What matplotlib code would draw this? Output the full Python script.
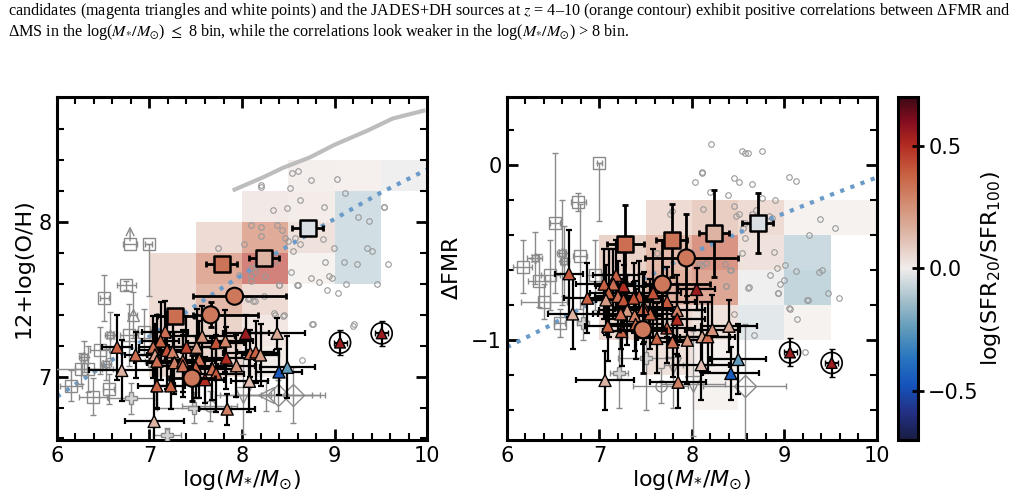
import numpy as np
import matplotlib
matplotlib.use("Agg")
import matplotlib.pyplot as plt
from matplotlib.colors import LinearSegmentedColormap, Normalize
from matplotlib.cm import ScalarMappable

# colour scale, roughly cmocean "balance"
cmap = LinearSegmentedColormap.from_list("balance", [
    (0.00, (0.094, 0.110, 0.263)), (0.08, (0.14, 0.19, 0.52)),
    (0.16, (0.08, 0.33, 0.74)), (0.24, (0.16, 0.46, 0.75)),
    (0.32, (0.37, 0.60, 0.73)), (0.40, (0.62, 0.74, 0.79)),
    (0.50, (0.945, 0.929, 0.925)), (0.60, (0.87, 0.72, 0.66)),
    (0.70, (0.82, 0.53, 0.42)), (0.78, (0.78, 0.37, 0.25)),
    (0.86, (0.70, 0.17, 0.13)), (0.93, (0.52, 0.05, 0.12)),
    (1.00, (0.24, 0.035, 0.08))])
norm = Normalize(-0.7, 0.7)

# ---- binned background maps (lower-left corners, value) ----
cell_l_x = [8.5, 9.0, 9.5, 8.0, 8.5, 9.0, 7.5, 8.0, 8.5, 9.0, 7.0, 7.5, 8.0, 8.5, 9.0,
            7.0, 7.5, 8.0, 7.0, 7.5, 8.0, 7.0, 7.5, 8.0]
cell_l_y = [8.2, 8.2, 8.2, 8.0, 8.0, 8.0, 7.8, 7.8, 7.8, 7.8, 7.6, 7.6, 7.6, 7.6, 7.6,
            7.4, 7.4, 7.4, 7.2, 7.2, 7.2, 7.0, 7.0, 7.0]
cell_l_v = [0.02, 0.015, -0.02, 0.04, 0.03, -0.1, 0.1, 0.32, 0.08, -0.1, 0.1, 0.32, 0.48, 0.01, -0.1,
            0.1, 0.25, 0.1, 0.1, 0.14, 0.05, 0.1, 0.12, 0.03]
cell_r_x = [7.5, 8.0, 8.5, 9.0, 9.5, 7.0, 7.5, 8.0, 8.5, 9.0, 7.0, 7.5, 8.0, 8.5, 9.0,
            7.0, 7.5, 8.0, 8.5, 9.0, 7.5, 8.0, 8.0]
cell_r_y = [-0.4] * 5 + [-0.6] * 5 + [-0.8] * 5 + [-1.0] * 5 + [-1.2, -1.2, -1.4]
cell_r_v = [0.1, 0.16, 0.1, 0.01, 0.01, 0.14, 0.25, 0.42, 0.08, -0.12, 0.1, 0.3, 0.34, -0.02, -0.14,
            0.1, 0.13, 0.08, -0.05, 0.01, 0.08, 0.015, 0.01]

# ---- small grey points (comparison sample) ----
dot_l_x = [8.54, 8.60, 8.20, 8.75, 9.03, 8.52, 9.11, 8.63, 8.34, 8.49, 8.89, 9.54, 9.25, 9.37, 8.10, 8.20,
           8.38, 8.43, 8.20, 8.46, 8.57, 8.50, 8.63, 8.88, 8.02, 8.99, 8.55, 9.35, 9.40, 8.36, 8.90, 9.10,
           9.24, 9.58, 8.16, 8.10, 8.14, 8.25, 8.10, 8.10, 8.53, 8.75, 8.94, 8.97, 8.60, 8.83, 9.12, 9.46,
           8.40, 8.92, 9.04, 8.07, 8.14, 8.24, 8.36, 8.44, 8.76, 9.20, 8.21, 7.74, 7.97, 9.53, 8.40, 8.59,
           8.08, 8.12, 8.35, 8.45, 8.77, 9.21, 8.65]
dot_l_y = [8.32, 8.33, 8.24, 8.27, 8.28, 8.22, 8.19, 8.14, 8.08, 8.09, 8.10, 8.10, 8.03, 8.01, 7.98, 7.97,
           7.98, 7.95, 7.91, 7.90, 7.90, 7.88, 7.86, 7.89, 7.86, 7.83, 7.81, 7.83, 7.81, 7.75, 7.74, 7.74,
           7.73, 7.73, 7.72, 7.70, 7.68, 7.65, 7.65, 7.62, 7.68, 7.64, 7.65, 7.64, 7.59, 7.61, 7.60, 7.60,
           7.59, 7.56, 7.54, 7.50, 7.49, 7.52, 7.40, 7.39, 7.34, 7.33, 8.23, 7.83, 7.66, 8.10, 7.59, 7.59,
           7.51, 7.49, 7.41, 7.40, 7.34, 7.34, 7.11]
dot_r_x = [8.21, 8.54, 8.57, 8.61, 8.76, 8.11, 8.03, 8.45, 8.51, 8.65, 9.05, 9.12, 8.20, 8.39, 8.90, 8.76,
           8.12, 8.45, 8.48, 8.51, 8.69, 8.65, 8.83, 8.87, 8.57, 8.55, 9.38, 9.55, 9.26, 8.57, 8.54, 8.89,
           9.01, 8.92, 8.84, 9.12, 9.37, 9.41, 9.00, 8.95, 8.62, 8.93, 9.47, 9.25, 9.59, 9.05, 9.13, 8.36,
           8.41, 8.08, 8.11, 8.15, 8.37, 8.11, 7.78, 7.76, 7.62, 8.42, 8.61, 8.93, 9.24, 9.06, 8.45, 8.67,
           9.22, 8.37]
dot_r_y = [0.12, 0.08, 0.067, 0.067, 0.08, -0.044, -0.095, -0.076, -0.095, -0.105, -0.069, -0.091, -0.156,
           -0.17, -0.20, -0.189, -0.253, -0.234, -0.29, -0.28, -0.257, -0.28, -0.29, -0.30, -0.33, -0.36,
           -0.31, -0.36, -0.40, -0.415, -0.50, -0.495, -0.57, -0.587, -0.63, -0.606, -0.61, -0.60, -0.657,
           -0.68, -0.695, -0.73, -0.73, -0.77, -0.76, -0.815, -0.88, -0.567, -0.60, -0.566, -0.57, -0.56,
           -0.69, -0.04, -0.26, -0.28, -0.50, -0.60, -0.70, -0.73, -0.77, -0.82, -0.85, -0.97, -1.07, -0.69]

# ---- literature / grey galaxies with error bars (lower / upper y errors) ----
lit_l_x = [6.79, 6.99, 6.75, 6.51, 6.94, 6.46, 6.26, 6.15, 6.39, 6.56, 6.78, 6.34, 6.57, 6.29, 6.82, 6.53,
           6.80, 7.48, 8.55, 8.39, 8.26, 8.01, 7.65, 7.05, 7.19]
lit_l_y = [7.86, 7.86, 7.59, 7.51, 7.29, 7.17, 7.05, 6.94, 6.87, 6.92, 7.27, 7.05, 7.27, 7.13, 7.40, 7.08,
           6.86, 6.80, 6.88, 6.88, 6.88, 6.88, 6.81, 7.10, 6.62]
lit_l_xe = [0.08, 0.04, 0.10, 0.05, 0.08, 0.10, 0.35, 0.12, 0.15, 0.06, 0.10, 0.15, 0.05, 0.05, 0.05, 0.05,
            0.25, 0.40, 0.35, 0.45, 0.50, 0.30, 0.30, 0.10, 0.15]
lit_l_ylo = [0.0, 0.34, 0.03, 0.15, 0.15, 0.15, 0.10, 0.10, 0.12, 0.10, 0.20, 0.15, 0.15, 0.10, 0.15, 0.10,
             0.10, 0.10, 0.18, 0.10, 0.10, 0.25, 0.10, 0.20, 0.05]
lit_l_yhi = [0.0, 0.0, 0.03, 0.15, 0.15, 0.15, 0.10, 0.10, 0.12, 0.10, 0.20, 0.15, 0.15, 0.10, 0.15, 0.10,
             0.10, 0.10, 0.18, 0.10, 0.10, 0.25, 0.10, 0.20, 0.05]
lit_l_m = ["s", "s", "s", "s", "s", "s", "s", "s", "s", "s", "s", "s", "fl", "fl", "^", "fl",
           "P", "P", "D", "D", "<", "v", "o", "s", "P"]
lit_r_x = [7.00, 6.77, 6.52, 6.79, 6.30, 6.59, 6.17, 6.47, 6.35, 6.40, 6.57, 6.82, 7.21, 7.50, 8.57, 7.66,
           8.01, 6.95, 6.62, 7.80]
lit_r_y = [0.01, -0.21, -0.33, -0.52, -0.53, -0.50, -0.58, -0.63, -0.66, -0.78, -0.90, -0.90, -1.19, -1.10,
           -1.26, -1.26, -1.25, -0.63, -0.55, -1.14]
lit_r_xe = [0.03, 0.08, 0.05, 0.08, 0.08, 0.05, 0.10, 0.10, 0.12, 0.25, 0.06, 0.06, 0.10, 0.30, 0.45, 0.30,
            0.35, 0.08, 0.05, 0.10]
lit_r_ylo = [0.33, 0.05, 0.40, 0.30, 0.15, 0.30, 0.15, 0.20, 0.15, 0.10, 0.08, 0.10, 0.20, 0.30, 0.35, 0.10,
             0.30, 0.20, 0.20, 0.25]
lit_r_yhi = [0.0, 0.05, 0.40, 0.30, 0.15, 0.30, 0.15, 0.20, 0.15, 0.10, 0.08, 0.10, 0.20, 0.30, 0.35, 0.10,
             0.30, 0.20, 0.20, 0.25]
lit_r_m = ["s", "s", "s", "s", "fl", "fl", "s", "s", "s", "s", "s", "P", "P", "P", "D", "o",
           "v", "s", "fl", "v"]
arrow_l = (6.79, 7.86, 7.99)  # lower limit: x, from y, to y

# ---- triangles: galaxies coloured by log(SFR20/SFR100) ----
tri_l_x = [6.65, 6.85, 6.70, 7.17, 7.12, 7.04, 7.19, 7.25, 7.06, 7.08, 7.27, 7.36, 7.40, 7.51, 7.57, 7.72,
           7.82, 8.04, 8.38, 8.09, 8.15, 8.20, 7.83, 7.54, 7.36, 7.50, 7.68, 7.72, 7.94, 7.60, 8.08, 8.40,
           8.49, 7.08, 7.23, 7.84, 7.05]
tri_l_y = [7.19, 7.14, 7.04, 7.29, 7.23, 7.19, 7.17, 7.16, 7.14, 7.10, 7.09, 7.10, 7.19, 7.19, 7.26, 7.22,
           7.23, 7.28, 7.28, 7.15, 7.16, 7.14, 7.12, 7.11, 7.07, 7.06, 7.05, 7.02, 7.07, 6.98, 6.97, 7.03,
           7.06, 6.94, 6.94, 6.79, 6.71]
tri_l_xe = [0.16, 0.12, 0.35, 0.25, 0.20, 0.15, 0.30, 0.25, 0.20, 0.25, 0.30, 0.35, 0.30, 0.30, 0.35, 0.30,
            0.30, 0.25, 0.30, 0.30, 0.20, 0.20, 0.30, 0.30, 0.30, 0.30, 0.30, 0.30, 0.20, 0.20, 0.20, 0.25,
            0.30, 0.20, 0.15, 0.30, 0.32]
tri_l_ye = [0.21, 0.15, 0.20, 0.20, 0.25, 0.20, 0.25, 0.20, 0.20, 0.30, 0.20, 0.20, 0.20, 0.25, 0.20, 0.20,
            0.20, 0.12, 0.10, 0.15, 0.20, 0.20, 0.20, 0.25, 0.20, 0.20, 0.20, 0.25, 0.20, 0.15, 0.20, 0.15,
            0.20, 0.15, 0.15, 0.10, 0.20]
tri_l_c = [0.38, 0.35, 0.15, 0.35, 0.38, 0.35, 0.42, 0.30, 0.20, 0.35, 0.30, 0.35, 0.45, 0.22, 0.25, 0.42,
           0.28, 0.55, 0.18, 0.35, 0.38, 0.22, 0.50, 0.35, 0.35, 0.38, 0.35, 0.40, 0.25, 0.50, 0.12, -0.45,
           -0.25, 0.38, 0.38, 0.30, 0.15]

tri_r_x = [6.71, 6.87, 6.67, 7.06, 7.05, 7.18, 7.26, 7.15, 7.10, 7.20, 7.07, 7.26, 7.43, 7.30, 7.23, 7.38,
           7.09, 7.24, 7.48, 7.55, 7.58, 7.73, 7.84, 8.05, 7.84, 7.62, 7.79, 7.95, 8.11, 8.17, 8.22, 8.40,
           8.10, 7.85, 8.50, 8.42, 7.39, 7.47, 7.73, 7.37]
tri_r_y = [-0.85, -0.76, -0.62, -1.23, -0.68, -0.63, -0.69, -0.68, -0.73, -0.75, -0.77, -0.77, -0.75, -0.83,
           -0.85, -0.86, -0.92, -0.95, -0.81, -0.85, -0.73, -0.78, -0.83, -0.71, -0.88, -0.99, -1.01, -1.00,
           -0.98, -0.98, -0.94, -0.92, -1.14, -1.24, -1.11, -1.19, -0.91, -0.82, -0.93, -0.76]
tri_r_xe = [0.27, 0.25, 0.15, 0.31, 0.30, 0.25, 0.30, 0.20, 0.20, 0.25, 0.20, 0.30, 0.30, 0.30, 0.30, 0.30,
            0.25, 0.20, 0.30, 0.30, 0.30, 0.30, 0.30, 0.20, 0.30, 0.20, 0.20, 0.20, 0.30, 0.30, 0.30, 0.30,
            0.30, 0.30, 0.30, 0.30, 0.30, 0.30, 0.30, 0.30]
tri_r_ye = [0.20, 0.20, 0.25, 0.17, 0.20, 0.20, 0.20, 0.20, 0.25, 0.20, 0.20, 0.20, 0.20, 0.20, 0.20, 0.20,
            0.20, 0.20, 0.20, 0.20, 0.25, 0.20, 0.20, 0.12, 0.20, 0.20, 0.20, 0.25, 0.20, 0.20, 0.20, 0.15,
            0.20, 0.15, 0.20, 0.15, 0.20, 0.20, 0.20, 0.20]
tri_r_c = [0.15, 0.38, 0.40, 0.15, 0.38, 0.38, 0.50, 0.35, 0.38, 0.35, 0.22, 0.42, 0.40, 0.22, 0.35, 0.30,
           0.38, 0.38, 0.35, 0.38, 0.42, 0.40, 0.30, 0.55, 0.50, 0.38, 0.35, 0.25, 0.20, 0.35, 0.25, 0.18,
           0.12, 0.30, -0.25, -0.45, 0.35, 0.38, 0.40, 0.42]

# ---- circled triangles (high-mass) ----
ring_x = [9.06, 9.51]
ring_l_y = [7.22, 7.28]
ring_r_y = [-1.07, -1.13]
ring_c = [0.55, 0.55]

# ---- binned medians: squares and circles ----
sq_x = [7.28, 7.78, 8.24, 8.71]
sq_l_y = [7.39, 7.73, 7.77, 7.96]
sq_r_y = [-0.45, -0.43, -0.39, -0.33]
sq_xe = [0.20, 0.17, 0.16, 0.17]
sq_l_ye = [0.04, 0.03, 0.03, 0.03]
sq_r_ye = [0.22, 0.21, 0.25, 0.17]
sq_c = [0.35, 0.33, 0.15, -0.04]
ci_l_x = [7.92, 7.66, 7.46]
ci_l_y = [7.52, 7.40, 6.99]
ci_r_x = [7.94, 7.68, 7.47]
ci_r_y = [-0.53, -0.68, -0.94]
ci_xlo = [0.45, 0.19, 0.25]
ci_xhi = [0.56, 0.51, 0.25]
ci_l_ye = [0.02, 0.08, 0.15]
ci_r_ye = [0.25, 0.25, 0.25]
ci_c = [0.32, 0.32, 0.32]

# ---- relations ----
rel_l_x = [6.0, 6.6, 7.0, 7.4, 7.8, 8.4, 9.0, 9.5, 10.0]
rel_l_y = [6.87, 7.11, 7.26, 7.42, 7.58, 7.81, 8.02, 8.19, 8.34]
rel_r_x = [6.0, 6.45, 6.86, 7.44, 8.01, 8.45, 8.88, 9.5, 10.0]
rel_r_y = [-1.04, -0.92, -0.80, -0.66, -0.50, -0.40, -0.30, -0.17, -0.07]
curve_x = [7.92, 8.23, 8.44, 8.74, 9.0, 9.35, 9.63, 9.96]
curve_y = [8.21, 8.29, 8.35, 8.42, 8.50, 8.59, 8.67, 8.72]

fig = plt.figure(figsize=(10.25, 4.98), dpi=100)
axl = fig.add_axes([0.0556, 0.1165, 0.361, 0.689])
axr = fig.add_axes([0.4946, 0.1165, 0.361, 0.689])
cax = fig.add_axes([0.876, 0.1165, 0.0195, 0.689])

grey = "#8a8a8a"


def lit_marker(m):
    if m == "fl":
        return (8, 1, 0)
    return m


def draw(ax, cx, cy, cv, dx, dy, lx, ly, lxe, lylo, lyhi, lm, tx, ty, txe, tye, tc,
         ry, sy, sye, cix, ciy, ciye, relx, rely):
    ax.bar(cx, 0.2, width=0.5, bottom=cy, align="edge",
           color=cmap(norm(np.array(cv))), alpha=0.62, lw=0, zorder=0)
    ax.plot(dx, dy, "o", ms=4, mfc="none", mec="#999999", mew=0.8, zorder=1)
    ax.plot(relx, rely, color="#6b9bc8", lw=3, ls=(0, (1, 1.6)), zorder=2)
    for x, y, xe, ylo, yhi, m in zip(lx, ly, lxe, lylo, lyhi, lm):
        ye = [[ylo], [yhi]] if (ylo + yhi) > 0 else None
        ax.errorbar(x, y, xerr=xe, yerr=ye, fmt="none",
                    ecolor=grey, elinewidth=1, capsize=2, zorder=3)
        ms = 11 if m in ("D", "v", "<") else 8
        face = "#d4d4d4" if m == "P" else "none"
        ax.plot(x, y, marker=lit_marker(m), ms=ms, mfc=face, mec=grey, mew=1, zorder=3)
    ax.errorbar(tx, ty, xerr=txe, yerr=tye, fmt="none", ecolor="k",
                elinewidth=1.6, capsize=2, capthick=1.6, zorder=4)
    ax.scatter(tx, ty, c=tc, cmap=cmap, norm=norm, marker="^", s=75,
               edgecolors="k", linewidths=1, zorder=5)
    ax.errorbar(ring_x, ry, xerr=0.07, yerr=0.08, fmt="none", ecolor="k",
                elinewidth=1.6, capsize=2, zorder=5)
    ax.scatter(ring_x, ry, s=230, facecolors="none", edgecolors="k", linewidths=1.2, zorder=5)
    ax.scatter(ring_x, ry, c=ring_c, cmap=cmap, norm=norm, marker="^", s=60,
               edgecolors="k", linewidths=1, zorder=6)
    ax.errorbar(cix, ciy, xerr=[ci_xlo, ci_xhi], yerr=ciye, fmt="none", ecolor="k",
                elinewidth=2, capsize=2.5, capthick=2, zorder=6)
    ax.scatter(cix, ciy, c=ci_c, cmap=cmap, norm=norm, marker="o", s=150,
               edgecolors="k", linewidths=1.5, zorder=7)
    ax.errorbar(sq_x, sy, xerr=sq_xe, yerr=sye, fmt="none", ecolor="k",
                elinewidth=2, capsize=2.5, capthick=2, zorder=6)
    ax.scatter(sq_x, sy, c=sq_c, cmap=cmap, norm=norm, marker="s", s=130,
               edgecolors="k", linewidths=1.8, zorder=7)
    ax.set_xlim(6, 10)
    ax.set_xticks([6, 7, 8, 9, 10])
    ax.set_xticks(np.arange(6, 10.01, 0.2), minor=True)
    ax.tick_params(which="both", direction="in", top=True, right=True, labelsize=15, pad=4)
    ax.tick_params(which="major", length=8, width=2)
    ax.tick_params(which="minor", length=5, width=1.5)
    for s in ax.spines.values():
        s.set_linewidth(2.2)
    ax.set_xlabel(r"log($M_{*}/M_{\odot}$)", fontsize=16, labelpad=2)


draw(axl, cell_l_x, cell_l_y, cell_l_v, dot_l_x, dot_l_y, lit_l_x, lit_l_y, lit_l_xe, lit_l_ylo,
     lit_l_yhi, lit_l_m, tri_l_x, tri_l_y, tri_l_xe, tri_l_ye, tri_l_c, ring_l_y, sq_l_y, sq_l_ye,
     ci_l_x, ci_l_y, ci_l_ye, rel_l_x, rel_l_y)
axl.plot(curve_x, curve_y, color="#bdbdbd", lw=3, zorder=2)
axl.annotate("", xy=(arrow_l[0], arrow_l[2]), xytext=(arrow_l[0], arrow_l[1]),
             arrowprops=dict(arrowstyle="->", color=grey, lw=1, mutation_scale=14), zorder=3)
axl.set_ylim(6.59, 8.81)
axl.set_yticks([7, 8])
axl.set_yticks(np.arange(6.6, 8.81, 0.2), minor=True)
axl.set_ylabel("12+log(O/H)", fontsize=16, labelpad=3)

draw(axr, cell_r_x, cell_r_y, cell_r_v, dot_r_x, dot_r_y, lit_r_x, lit_r_y, lit_r_xe, lit_r_ylo,
     lit_r_yhi, lit_r_m, tri_r_x, tri_r_y, tri_r_xe, tri_r_ye, tri_r_c, ring_r_y, sq_r_y, sq_r_ye,
     ci_r_x, ci_r_y, ci_r_ye, rel_r_x, rel_r_y)
axr.set_ylim(-1.57, 0.39)
axr.set_yticks([-1, 0])
axr.set_yticks(np.arange(-1.4, 0.39, 0.2), minor=True)
axr.set_ylabel(r"$\Delta$FMR", fontsize=16, labelpad=6)

cb = fig.colorbar(ScalarMappable(norm=norm, cmap=cmap), cax=cax)
cb.set_ticks([-0.5, 0.0, 0.5])
cb.ax.tick_params(labelsize=15, direction="inout", length=8, width=2)
cb.outline.set_linewidth(2.2)
cb.set_label(r"log(SFR$_{20}$/SFR$_{100}$)", fontsize=16, labelpad=0)

cap1 = ("candidates (magenta triangles and white points) and the JADES+DH sources at $z$ = 4\u201310 "
        "(orange contour) exhibit positive correlations between \u0394FMR and")
cap2 = ("\u0394MS in the log($M_{*}/M_{\\odot}$) $\\leq$ 8 bin, while the correlations look weaker "
        "in the log($M_{*}/M_{\\odot}$) > 8 bin.")
fig.text(0.008, 0.978, cap1, fontsize=11.6, family="Liberation Serif", math_fontfamily="stix", va="center")
fig.text(0.008, 0.936, cap2, fontsize=11.6, family="Liberation Serif", math_fontfamily="stix", va="center")

fig.savefig("out.png", dpi=100)
